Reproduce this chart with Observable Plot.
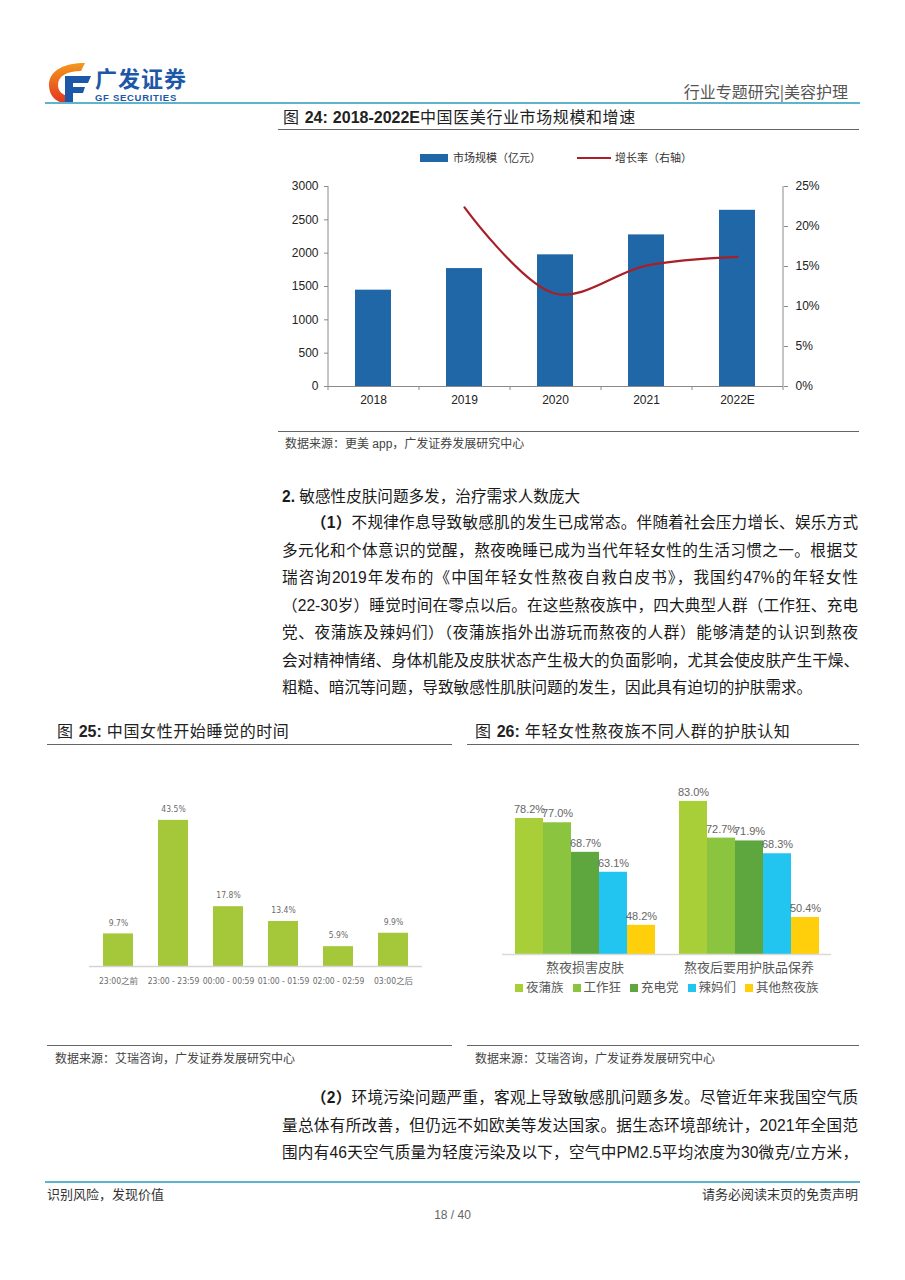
<!DOCTYPE html>
<html><head><meta charset="utf-8">
<script src="https://cdn.jsdelivr.net/npm/d3@7"></script>
<script src="https://cdn.jsdelivr.net/npm/@observablehq/plot@0.6"></script>
<style>
body{margin:0;background:#fff;}
#page{position:relative;width:905px;height:1280px;overflow:hidden;font-family:"Liberation Sans","Noto Sans CJK SC",sans-serif;color:#1a1a1a;background:#fff;}
.abs{position:absolute;white-space:nowrap;}
.hl{position:absolute;height:0;}
.jl{text-align:justify;text-align-last:justify;}
.para{position:absolute;font-size:15.6px;line-height:27.5px;}
.para div{height:27.5px;white-space:nowrap;}
.title{position:absolute;white-space:nowrap;font-size:16px;letter-spacing:0.6px;color:#222;}
.title b{font-family:"Liberation Sans",sans-serif;letter-spacing:0;}
.src{position:absolute;white-space:nowrap;font-size:12px;color:#444;}
.plotbox{position:absolute;}
.plotbox svg{overflow:visible;}
</style></head><body><div id="page">

<!-- header -->
<svg class="abs" style="left:45px;top:60px" width="48" height="46" viewBox="0 0 48 46">
  <defs><linearGradient id="og" x1="0" y1="0" x2="0" y2="1"><stop offset="0" stop-color="#f39a1e"/><stop offset="1" stop-color="#e2321f"/></linearGradient></defs>
  <path d="M40 3 C20 3 4 10 4 25 C4 38 14 44 26 44 L26 36 C17 36 13 31 13 25 C13 16 22 11 36 11 Z" fill="url(#og)"/>
  <path d="M20 16 L46 16 L43 23 L28 23 L28 27 L40 27 L38 33 L28 33 L28 44 L20 44 Z" fill="#1d57a7"/>
</svg>
<div class="abs" style="left:95px;top:64px;font-size:22px;font-weight:bold;color:#1d57a7;letter-spacing:1px;font-family:'Noto Sans CJK SC',sans-serif;line-height:26px">广发证券</div>
<div class="abs" style="left:95px;top:93px;font-size:9.5px;font-weight:bold;color:#1d57a7;letter-spacing:0.7px;line-height:10px">GF SECURITIES</div>
<div class="abs" style="right:57px;top:80px;font-size:16px;color:#555;line-height:22px;font-family:'Noto Sans CJK SC',sans-serif">行业专题研究|美容护理</div>
<div class="hl" style="left:45px;top:102px;width:815px;border-top:2px solid #5eb5cb"></div>

<!-- Figure 24 -->
<div class="title" style="left:283px;top:107px;line-height:22px">图 <b>24:</b> <b>2018-2022E</b>中国医美行业市场规模和增速</div>
<div class="hl" style="left:278px;top:129px;width:581px;border-top:1.5px solid #666"></div>
<div id="legend1" class="abs" style="left:420px;top:149px;font-size:11px;color:#333;line-height:16px"></div>
<div id="chart1" class="plotbox" style="left:280px;top:175px"></div>
<div class="hl" style="left:278px;top:431px;width:581px;border-top:1.5px solid #666"></div>
<div class="src" style="left:285px;top:435px;line-height:18px">数据来源：更美 app，广发证券发展研究中心</div>

<!-- Section text -->
<div class="abs" style="left:282px;top:486px;font-size:15.6px;line-height:22px"><b>2.</b> 敏感性皮肤问题多发，治疗需求人数庞大</div>
<div class="para" style="left:282px;top:509px;width:576px">
  <div class="jl" style="padding-left:29px"><b>（1）</b>不规律作息导致敏感肌的发生已成常态。伴随着社会压力增长、娱乐方式</div>
  <div class="jl">多元化和个体意识的觉醒，熬夜晚睡已成为当代年轻女性的生活习惯之一。根据艾</div>
  <div class="jl">瑞咨询2019年发布的《中国年轻女性熬夜自救白皮书》，我国约47%的年轻女性</div>
  <div class="jl">（22-30岁）睡觉时间在零点以后。在这些熬夜族中，四大典型人群（工作狂、充电</div>
  <div class="jl">党、夜蒲族及辣妈们）（夜蒲族指外出游玩而熬夜的人群）能够清楚的认识到熬夜</div>
  <div class="jl">会对精神情绪、身体机能及皮肤状态产生极大的负面影响，尤其会使皮肤产生干燥、</div>
  <div>粗糙、暗沉等问题，导致敏感性肌肤问题的发生，因此具有迫切的护肤需求。</div>
</div>

<!-- Figure 25 / 26 titles -->
<div class="title" style="left:57px;top:721px;line-height:22px">图 <b>25:</b> 中国女性开始睡觉的时间</div>
<div class="hl" style="left:47px;top:744px;width:405px;border-top:1.5px solid #666"></div>
<div class="title" style="left:475px;top:721px;line-height:22px">图 <b>26:</b> 年轻女性熬夜族不同人群的护肤认知</div>
<div class="hl" style="left:467px;top:744px;width:392px;border-top:1.5px solid #666"></div>

<div id="chart2" class="plotbox" style="left:60px;top:790px"></div>
<div id="chart3" class="plotbox" style="left:480px;top:760px"></div>
<div id="legend3" class="abs" style="left:515px;top:978px;font-size:12.5px;color:#595959;line-height:18px"></div>

<div class="hl" style="left:47px;top:1045px;width:405px;border-top:1.5px solid #666"></div>
<div class="src" style="left:55px;top:1050px;line-height:18px">数据来源：艾瑞咨询，广发证券发展研究中心</div>
<div class="hl" style="left:467px;top:1045px;width:392px;border-top:1.5px solid #666"></div>
<div class="src" style="left:475px;top:1050px;line-height:18px">数据来源：艾瑞咨询，广发证券发展研究中心</div>

<div class="para" style="left:282px;top:1084px;width:576px">
  <div class="jl" style="padding-left:29px"><b>（2）</b>环境污染问题严重，客观上导致敏感肌问题多发。尽管近年来我国空气质</div>
  <div class="jl">量总体有所改善，但仍远不如欧美等发达国家。据生态环境部统计，2021年全国范</div>
  <div class="jl">围内有46天空气质量为轻度污染及以下，空气中PM2.5平均浓度为30微克/立方米，</div>
</div>

<!-- footer -->
<div class="hl" style="left:45px;top:1181px;width:815px;border-top:2px solid #5eb5cb"></div>
<div class="abs" style="left:47px;top:1185px;font-size:13px;color:#333;line-height:18px;font-family:'Noto Sans CJK SC',sans-serif">识别风险，发现价值</div>
<div class="abs" style="right:47px;top:1185px;font-size:13px;color:#333;line-height:18px;font-family:'Noto Sans CJK SC',sans-serif">请务必阅读末页的免责声明</div>
<div class="abs" style="left:0;width:905px;text-align:center;top:1207px;font-size:12px;color:#666;line-height:16px">18 / 40</div>

</div>
<script>
// ---------- Figure 24 data ----------
const years = ["2018", "2019", "2020", "2021", "2022E"];
const marketSize = [1445, 1769, 1975, 2274, 2643];          // 亿元
const growthYears = ["2019", "2020", "2021", "2022E"];
const growthRate = [22.4, 11.6, 15.1, 16.2];                 // %
const leftTicks = [0, 500, 1000, 1500, 2000, 2500, 3000];
const rightTicks = [0, 5, 10, 15, 20, 25];
const leftMax = 3000, rightMax = 25;

// ---------- Figure 25 data ----------
const sleepTimes = ["23:00之前", "23:00 - 23:59", "00:00 - 00:59", "01:00 - 01:59", "02:00 - 02:59", "03:00之后"];
const sleepShare = [9.7, 43.5, 17.8, 13.4, 5.9, 9.9];

// ---------- Figure 26 data ----------
const groups = ["熬夜损害皮肤", "熬夜后要用护肤品保养"];
const crowds = ["夜蒲族", "工作狂", "充电党", "辣妈们", "其他熬夜族"];
const crowdColors = ["#a9cf38", "#8bc540", "#5ea63e", "#22c4f0", "#fecf0a"];
const damageValues = [78.2, 77.0, 68.7, 63.1, 48.2];
const careValues = [83.0, 72.7, 71.9, 68.3, 50.4];
const fig26Base = 40;

const lab = {fontFamily: "'Liberation Sans', 'Noto Sans CJK SC', sans-serif"};

// ---------- Chart 1 ----------
{
  const sizeData = years.map((y, i) => ({year: y, size: marketSize[i]}));
  const rateData = growthYears.map((y, i) => ({year: y, rate: growthRate[i]}));
  const k = leftMax / rightMax;
  const W = 578, mL = 48, mR = 75;
  const step = (W - mL - mR) / years.length;
  const axisColor = "#8a8a8a";
  const p = Plot.plot({
    width: W, height: 245, marginLeft: mL, marginRight: mR, marginTop: 11, marginBottom: 34,
    style: {fontSize: "12px", ...lab, color: "#222", background: "transparent"},
    x: {domain: years, paddingInner: 0.6, paddingOuter: 0.3, axis: null},
    y: {domain: [0, leftMax], axis: null},
    marks: [
      Plot.barY(sizeData, {x: "year", y: "size", fill: "#1f67a6"}),
      Plot.line(rateData, {x: "year", y: d => d.rate * k, stroke: "#a81f27", strokeWidth: 2.2, curve: "catmull-rom"}),
      Plot.ruleY([0], {stroke: axisColor}),
      Plot.ruleX([years[0]], {dx: -step / 2, y1: 0, y2: leftMax, stroke: axisColor}),
      Plot.ruleX([years[years.length - 1]], {dx: step / 2, y1: 0, y2: leftMax, stroke: axisColor}),
      Plot.ruleX(years, {dx: -step / 2, y1: 0, y2: -60, stroke: axisColor}),
      Plot.ruleX([years[years.length - 1]], {dx: step / 2, y1: 0, y2: -60, stroke: axisColor}),
      Plot.axisY(leftTicks, {anchor: "left", tickSize: 4, tickPadding: 6, stroke: axisColor, fill: "#222", label: null, fontSize: 12, tickFormat: d => String(d)}),
      Plot.axisY(rightTicks.map(t => t * k), {anchor: "right", tickSize: 4, tickPadding: 8, stroke: axisColor, fill: "#222", label: null, fontSize: 12, tickFormat: d => Math.round(d / k) + "%"}),
      Plot.axisX({anchor: "bottom", tickSize: 0, tickPadding: 9, fill: "#222", label: null, fontSize: 12})
    ]
  });
  document.getElementById("chart1").appendChild(p);
  document.getElementById("legend1").innerHTML =
    '<span style="display:inline-block;width:28px;height:8px;background:#1f67a6;vertical-align:middle;margin-right:5px"></span>' +
    '<span style="vertical-align:middle">市场规模（亿元）</span>' +
    '<span style="display:inline-block;width:34px;height:2px;background:#a81f27;vertical-align:middle;margin-left:36px;margin-right:4px"></span>' +
    '<span style="vertical-align:middle">增长率（右轴）</span>';
}

// ---------- Chart 2 ----------
{
  const data = sleepTimes.map((t, i) => ({t, v: sleepShare[i]}));
  const narrow = "'Liberation Sans Narrow', 'DejaVu Sans Condensed', 'Noto Sans CJK SC', sans-serif";
  const p = Plot.plot({
    width: 390, height: 206, marginLeft: 29, marginRight: 28, marginTop: 8, marginBottom: 30,
    style: {fontFamily: narrow, background: "transparent"},
    x: {domain: sleepTimes, paddingInner: 0.45, paddingOuter: 0.225, axis: null},
    y: {domain: [0, 50], axis: null},
    marks: [
      Plot.barY(data, {x: "t", y: "v", fill: "#a4c83a"}),
      Plot.ruleY([0], {stroke: "#d4d4d4", strokeWidth: 1.5}),
      Plot.text(data, {x: "t", y: "v", text: d => d.v.toFixed(1) + "%", dy: -11, fontSize: 8.5, fill: "#6b6b6b", fontFamily: narrow}),
      Plot.axisX({anchor: "bottom", tickSize: 0, tickPadding: 11, fill: "#6b6b6b", label: null, fontSize: 8.5, fontFamily: narrow})
    ]
  });
  document.getElementById("chart2").appendChild(p);
}

// ---------- Chart 3 ----------
{
  const data = [];
  groups.forEach((g, gi) => crowds.forEach((c, ci) => data.push({g, c, v: (gi === 0 ? damageValues : careValues)[ci]})));
  const p = Plot.plot({
    width: 370, height: 220, marginLeft: 22, marginRight: 20, marginTop: 16, marginBottom: 26,
    style: {...lab, background: "transparent"},
    fx: {domain: groups, paddingInner: 0.13, paddingOuter: 0.06, axis: null, label: null},
    x: {domain: crowds, padding: 0, axis: null},
    y: {domain: [fig26Base, 90], axis: null},
    color: {domain: crowds, range: crowdColors},
    marks: [
      Plot.barY(data, {fx: "g", x: "c", y1: () => fig26Base, y2: "v", fill: "c"}),
      Plot.ruleY([fig26Base], {stroke: "#d9d9d9", strokeWidth: 1.5, insetLeft: -11, insetRight: -11}),
      Plot.text(data, {fx: "g", x: "c", y: "v", text: d => d.v.toFixed(1) + "%", dy: -9, fontSize: 11, fill: "#666"}),
      Plot.axisFx({anchor: "bottom", tickSize: 0, tickPadding: 8, fill: "#595959", label: null, fontSize: 13})
    ]
  });
  document.getElementById("chart3").appendChild(p);
  document.getElementById("legend3").innerHTML = crowds.map((c, i) =>
    '<span style="display:inline-block;width:8px;height:8px;background:' + crowdColors[i] + ';margin-right:3px;vertical-align:middle"></span>' +
    '<span style="vertical-align:middle;margin-right:' + (i < crowds.length - 1 ? 9 : 0) + 'px">' + c + '</span>').join("");
}
</script>
</body></html>
